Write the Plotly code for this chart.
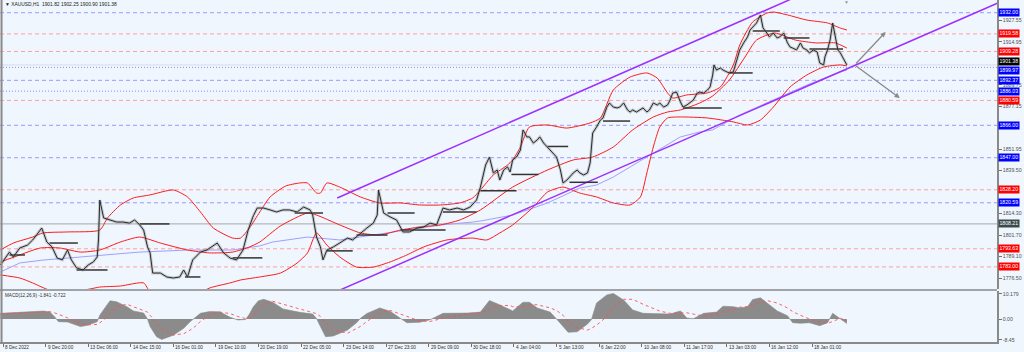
import plotly.graph_objects as go

W, H = 1024, 352
BG = '#eff6fd'
FONT = 'Liberation Sans'

# ---------------- price (H1 closes, bar index -> price) ----------------
price_bar = [-2, 5, 8, 13, 19, 23, 26, 30, 34, 38, 42, 46, 50, 53, 57, 62, 66, 70, 73, 74,
             75, 78, 83, 88, 93, 98, 102, 106, 109, 112, 114, 116, 122, 127, 132, 137, 140, 143, 147, 153,
             158, 166, 171, 176, 181, 186, 190, 194, 197, 202, 207, 212, 217, 222, 228, 233, 238, 240, 243, 246,
             248, 251, 256, 261, 267, 271, 277, 282, 287, 290, 291, 295, 300, 305, 310, 315, 321, 326, 331, 336,
             341, 346, 352, 357, 362, 367, 370, 374, 377, 380, 383, 385, 388, 391, 393, 395, 398, 401, 403, 406,
             408, 411, 414, 416, 419, 422, 424, 426, 429, 432, 434, 437, 439, 442, 445, 447, 450, 453, 455, 457,
             460, 463, 465, 468, 470, 473, 476, 478, 481, 484, 486, 488, 491, 494, 496, 499, 501, 504, 507, 509,
             512, 515, 517, 519, 522, 525, 527, 530, 532, 535, 538, 540, 543, 546, 548, 550, 551, 553, 556, 558,
             561, 563, 566, 569, 571, 574, 577, 579, 581, 584, 587, 589, 592, 594, 597, 600, 602, 605, 608, 610,
             612, 615, 618, 620, 623, 625, 628, 631, 633, 636, 637, 639, 641, 643, 647, 649, 651, 654]
price_close = [1784.1, 1791.7, 1788.8, 1794.1, 1795.8, 1798.8, 1801.7, 1805.8, 1797.6, 1794.7, 1788.2, 1787.1, 1792.9, 1787.1, 1782.4, 1781.2, 1784.1, 1785.9, 1788.8, 1798.8,
               1822.2, 1811.7, 1810.5, 1809.3, 1809.3, 1808.7, 1810.5, 1807.6, 1804.6, 1794.7, 1791.2, 1779.4, 1779.4, 1777.1, 1776.5, 1777.1, 1781.2, 1777.1, 1787.1, 1791.7,
               1792.9, 1797.0, 1791.2, 1788.2, 1787.1, 1792.9, 1804.6, 1813.0, 1817.5, 1817.5, 1816.4, 1815.2, 1816.4, 1816.4, 1815.2, 1818.1, 1816.4, 1813.4, 1800.5, 1794.7,
               1787.1, 1792.9, 1794.7, 1797.0, 1799.9, 1798.8, 1802.9, 1805.8, 1808.7, 1813.4, 1828.1, 1814.6, 1812.3, 1810.5, 1803.5, 1803.5, 1805.8, 1806.4, 1808.7, 1807.6,
               1817.5, 1816.4, 1817.5, 1816.4, 1818.1, 1822.2, 1829.8, 1842.7, 1847.4, 1838.1, 1839.8, 1833.9, 1839.8, 1841.6, 1838.6, 1845.7, 1847.4, 1851.5, 1863.3, 1859.2,
               1859.2, 1855.6, 1857.4, 1859.2, 1855.6, 1853.3, 1851.5, 1849.8, 1847.4, 1839.8, 1832.2, 1833.9, 1835.7, 1838.1, 1839.8, 1838.1, 1836.9, 1838.1, 1843.9, 1861.5,
               1865.0, 1869.1, 1870.3, 1876.7, 1879.1, 1876.7, 1876.2, 1876.7, 1879.1, 1875.0, 1873.8, 1875.0, 1873.8, 1875.0, 1876.2, 1873.8, 1875.0, 1879.1, 1877.9, 1879.1,
               1876.7, 1877.9, 1880.8, 1884.9, 1885.5, 1879.7, 1876.7, 1877.9, 1879.1, 1880.8, 1884.9, 1885.5, 1884.9, 1886.7, 1888.5, 1895.5, 1901.4, 1898.4, 1899.6, 1898.4,
               1897.3, 1896.7, 1897.3, 1905.5, 1910.2, 1914.3, 1917.8, 1921.9, 1923.6, 1926.0, 1930.7, 1923.1, 1920.1, 1917.8, 1920.1, 1917.2, 1917.8, 1920.1, 1914.3, 1911.9,
               1911.3, 1910.2, 1914.3, 1911.3, 1910.2, 1908.4, 1910.2, 1909.0, 1902.5, 1901.4, 1906.1, 1910.2, 1916.0, 1926.0, 1910.2, 1908.4, 1905.5, 1901.38]

# ---------------- Bollinger bands ----------------
bb_upper_bar = [-2, 8, 23, 31, 50, 75, 81, 91, 101, 114, 132, 143, 153, 163, 178, 184, 191, 199, 207, 219,
                230, 236, 243, 246, 251, 261, 277, 292, 308, 323, 339, 354, 364, 370, 380, 391, 395, 401, 408, 422,
                437, 455, 463, 473, 486, 499, 507, 515, 519, 530, 546, 556, 566, 571, 581, 592, 597, 608, 623, 639, 649, 654]
bb_upper = [1792.9, 1797.0, 1800.5, 1802.9, 1803.5, 1804.6, 1811.7, 1819.3, 1823.4, 1825.2, 1828.1, 1824.0, 1815.2, 1805.8, 1799.9, 1799.9, 1805.8, 1815.2, 1824.0, 1830.4,
            1832.2, 1832.2, 1826.3, 1826.3, 1832.2, 1829.8, 1824.0, 1820.5, 1820.5, 1819.3, 1819.3, 1820.5, 1823.4, 1828.1, 1836.9, 1842.7, 1845.7, 1853.3, 1865.0, 1866.2,
            1864.4, 1867.4, 1870.3, 1886.7, 1894.3, 1896.7, 1893.7, 1885.0, 1882.0, 1883.8, 1885.0, 1888.5, 1901.4, 1913.1, 1926.6, 1931.8, 1932.4, 1930.7, 1927.7, 1926.0, 1923.0, 1921.9]

bb_mid_bar = [-2, 13, 29, 44, 60, 75, 91, 106, 122, 143, 160, 178, 191, 199, 215, 236, 243, 261, 277, 292,
              308, 323, 339, 354, 370, 395, 422, 442, 457, 473, 488, 504, 515, 525, 540, 550, 563, 575, 584, 598,
              614, 630, 645, 654]
bb_mid = [1785.9, 1790.0, 1794.1, 1794.1, 1791.7, 1792.9, 1797.6, 1800.5, 1797.0, 1792.9, 1791.2, 1791.7, 1794.7, 1797.6, 1807.0, 1814.6, 1813.4, 1807.6, 1802.9, 1801.7,
          1804.6, 1806.4, 1807.6, 1810.5, 1816.4, 1829.8, 1839.8, 1845.7, 1847.4, 1853.3, 1863.3, 1870.9, 1873.8, 1875.0, 1879.1, 1883.2, 1892.6, 1906.0, 1916.0, 1920.1,
          1916.0, 1914.3, 1914.3, 1911.3]

bb_lower_bar = [-2, 13, 23, 36, 52, 67, 75, 91, 109, 114, 129, 145, 160, 176, 184, 199, 215, 228, 236, 243,
                251, 261, 274, 287, 300, 313, 326, 344, 364, 375, 385, 395, 411, 422, 434, 447, 460, 473, 486, 494,
                499, 504, 509, 515, 525, 546, 566, 577, 587, 597, 610, 623, 636, 649, 654]
bb_lower = [1778.3, 1776.5, 1773.6, 1769.4, 1768.3, 1770.0, 1771.2, 1771.8, 1773.6, 1768.3, 1763.6, 1764.8, 1770.6, 1773.6, 1775.3, 1777.1, 1779.4, 1785.3, 1791.2, 1802.9,
            1795.8, 1788.8, 1782.9, 1782.9, 1785.9, 1790.0, 1794.7, 1798.8, 1799.9, 1798.8, 1802.9, 1807.6, 1818.1, 1826.9, 1829.8, 1826.3, 1824.0, 1820.5, 1819.3, 1824.0,
            1838.1, 1853.3, 1865.0, 1870.3, 1870.9, 1870.3, 1868.0, 1866.2, 1869.1, 1876.7, 1888.5, 1895.5, 1900.2, 1901.4, 1900.8]

# ---------------- slow moving average (light blue) ----------------
ma_bar = [-2, 13, 31, 50, 75, 106, 143, 178, 199, 209, 236, 261, 287, 313, 339, 364, 370, 395, 422, 447,
          460, 473, 499, 525, 540, 550, 571, 597, 623, 649, 654]
ma_val = [1780.0, 1785.3, 1787.0, 1788.2, 1790.0, 1791.7, 1792.9, 1792.9, 1795.3, 1797.6, 1800.5, 1798.8, 1801.7, 1804.6, 1807.6, 1809.3, 1809.9, 1813.4, 1820.5, 1829.2,
          1831.0, 1835.7, 1847.4, 1859.2, 1862.1, 1863.3, 1872.1, 1880.8, 1889.6, 1897.3, 1898.4]

# ---------------- trend channel ----------------
channel_upper_bar = [259, 618]
channel_upper_price = [1823.4, 1942.4]
channel_lower_bar = [261, 771]
channel_lower_price = [1769.4, 1937.7]

# ---------------- short horizontal range segments ----------------
seg_level = [1790.0, 1797.0, 1781.2, 1808.2, 1777.1, 1788.3, 1814.6, 1792.4, 1801.7, 1814.6, 1804.6, 1815.2,
             1827.6, 1837.2, 1853.6, 1832.6, 1868.5, 1876.1, 1896.7, 1921.3, 1917.2, 1910.7]
seg_start = [5, 36, 57, 106, 141, 178, 226, 251, 274, 298, 308, 341, 370, 394, 422, 439, 465, 527, 563, 581, 605, 625]
seg_end = [17, 58, 81, 129, 153, 201, 248, 271, 298, 319, 343, 367, 398, 415, 438, 461, 486, 557, 581, 602, 625, 651]

# ---------------- horizontal levels ----------------
levels_blue_dash = [1932.00, 1892.37, 1866.00, 1847.00, 1820.59]
levels_blue_dot = [1899.97, 1886.03]
levels_red = [1919.58, 1909.28, 1880.59, 1828.20, 1793.63, 1783.00]
level_gray = 1808.21
last_price = 1901.38
y_ticks = [1927.55, 1914.95, 1889.75, 1877.15, 1851.95, 1839.50, 1814.30, 1801.70, 1789.10, 1776.50]

# ---------------- scenario arrows ----------------
arrow_tail_bar, arrow_tail_price = 660, 1901.4
arrow_head_bar = [684, 695]
arrow_head_price = [1920.7, 1882.0]

# ---------------- MACD(12,26,9) ----------------
macd_bar = [-2, 8, 23, 31, 36, 40, 43, 50, 60, 65, 73, 75, 81, 83, 88, 96, 101, 109, 112, 114,
            119, 123, 132, 140, 145, 149, 153, 160, 168, 176, 182, 188, 191, 194, 198, 202, 209, 217, 230, 240,
            243, 246, 250, 256, 267, 274, 277, 282, 292, 300, 308, 313, 323, 331, 341, 360, 370, 377, 383, 393,
            395, 403, 408, 414, 424, 429, 434, 438, 445, 453, 456, 460, 468, 473, 481, 488, 496, 509, 517, 525,
            530, 535, 543, 553, 558, 566, 571, 577, 581, 587, 592, 600, 608, 612, 618, 625, 633, 639, 643, 649, 654]
macd_hist = [2.3, 2.6, 2.8, 3.2, 2.9, 0.9, -1.1, -1.2, -3.1, -2.6, -1.1, 1.5, 6.0, 7.4, 7.0, 5.0, 3.3, 2.4, 0.0, -3.1,
             -7.2, -8.3, -6.6, -3.8, -1.1, 0.5, 2.3, 3.0, 2.9, 0.7, -0.4, -0.2, 2.0, 5.0, 7.4, 8.0, 6.8, 4.1, 2.7, 2.0,
             0.2, -3.1, -7.2, -6.9, -4.5, -1.5, 0.3, 2.2, 4.5, 3.1, 0.1, -1.5, -1.3, -0.3, 2.3, 2.4, 2.8, 7.5, 6.2, 3.7,
             3.3, 6.8, 6.8, 4.5, 2.8, 0.0, -3.1, -5.4, -5.2, -2.0, -0.3, 6.5, 9.8, 10.4, 7.7, 3.7, 2.3, 2.0, 2.0, 3.3,
             0.4, 0.1, 2.3, 2.8, 5.2, 5.0, 4.5, 5.0, 7.9, 8.6, 6.5, 3.3, 1.3, -1.5, -1.7, -1.5, -2.7, -1.5, 2.3, 0.0, -1.841]
macd_signal = [2.0, 2.3, 2.6, 2.9, 3.0, 2.5, 1.8, 0.5, -1.8, -2.4, -2.2, -1.6, 1.0, 2.5, 5.0, 6.0, 5.0, 3.5, 2.8, 1.5,
               -1.5, -4.0, -6.5, -6.0, -4.5, -3.0, -1.0, 1.5, 2.8, 2.2, 1.0, 0.2, 0.3, 1.5, 3.5, 5.5, 7.2, 6.0, 3.8, 2.6,
               2.2, 1.0, -1.5, -4.5, -5.8, -4.0, -3.0, -1.0, 2.5, 3.5, 2.0, 0.8, -0.8, -1.0, 0.3, 2.0, 2.5, 3.5, 5.5, 5.5,
               5.0, 5.0, 5.8, 5.8, 4.5, 3.5, 1.5, -0.8, -3.5, -4.5, -3.8, -2.5, 1.0, 4.5, 8.0, 8.0, 6.0, 3.2, 2.3, 2.5,
               2.5, 2.0, 1.2, 2.0, 2.8, 4.2, 4.8, 5.0, 5.8, 6.8, 7.5, 6.5, 4.5, 3.0, 1.5, 0.0, -1.2, -1.8, -1.0, 0.3, -0.722]
macd_ticks = [10.179, 0.0, -8.45]
macd_ticktext = ['10.179', '0.00', '-8.45']

# ---------------- time axis ----------------
x_tick_bars = [0, 33, 66, 99, 132, 165, 198, 231, 264, 297, 330, 363, 396, 429, 462, 495, 528, 561, 594, 627]
x_tick_labels = ['8 Dec 2022', '9 Dec 20:00', '13 Dec 06:00', '14 Dec 15:00', '16 Dec 01:00', '19 Dec 10:00',
                 '20 Dec 19:00', '22 Dec 05:00', '23 Dec 14:00', '27 Dec 23:00', '29 Dec 09:00', '30 Dec 18:00',
                 '4 Jan 04:00', '5 Jan 13:00', '6 Jan 22:00', '10 Jan 08:00', '11 Jan 17:00', '13 Jan 03:00',
                 '16 Jan 12:00', '18 Jan 01:00']

# ---------------- geometry ----------------
X_DOM = [0, 997 / W]
X_RANGE = [-2.33, 770.35]
MAIN_DOM = [1 - 289 / H, 1.0]
MACD_DOM = [1 - 342 / H, 1 - 291 / H]
MAIN_RANGE = [1770.05, 1939.46]
MACD_RANGE = [-9.35, 11.38]

fig = go.Figure()

# levels
shapes = []
for lv in levels_blue_dash:
    shapes.append(dict(type='line', xref='paper', x0=X_DOM[0], x1=X_DOM[1], yref='y', y0=lv, y1=lv,
                       line=dict(color='#9a9aff', width=1, dash='4px,3px'), layer='below'))
for lv in levels_blue_dot:
    shapes.append(dict(type='line', xref='paper', x0=X_DOM[0], x1=X_DOM[1], yref='y', y0=lv, y1=lv,
                       line=dict(color='#8c8cff', width=1, dash='1px,2px'), layer='below'))
for lv in levels_red:
    shapes.append(dict(type='line', xref='paper', x0=X_DOM[0], x1=X_DOM[1], yref='y', y0=lv, y1=lv,
                       line=dict(color='#ffa0a0', width=1, dash='4px,3px'), layer='below'))
shapes.append(dict(type='line', xref='paper', x0=X_DOM[0], x1=X_DOM[1], yref='y', y0=level_gray, y1=level_gray,
                   line=dict(color='#a8a8a8', width=1), layer='below'))
shapes.append(dict(type='line', xref='paper', x0=X_DOM[0], x1=X_DOM[1], yref='y', y0=last_price, y1=last_price,
                   line=dict(color='#d8dde4', width=1), layer='below'))
# panel frames
shapes.append(dict(type='line', xref='paper', yref='paper', x0=0, x1=X_DOM[1], y0=1 - 290 / H, y1=1 - 290 / H,
                   line=dict(color='#a0a4a8', width=2)))
shapes.append(dict(type='line', xref='paper', yref='paper', x0=0.0015, x1=0.0015, y0=MACD_DOM[0], y1=1,
                   line=dict(color='#8a8a8a', width=2)))
fig.update_layout(shapes=shapes)

# bollinger & ma
fig.add_trace(go.Scatter(x=ma_bar, y=ma_val, mode='lines', line=dict(color='#a0a0ff', width=1)))
for bx, by in ((bb_upper_bar, bb_upper), (bb_mid_bar, bb_mid), (bb_lower_bar, bb_lower)):
    fig.add_trace(go.Scatter(x=bx, y=by, mode='lines', line=dict(color='#ff1a1a', width=1, shape='spline', smoothing=0.6)))

# channel
fig.add_trace(go.Scatter(x=channel_upper_bar, y=channel_upper_price, mode='lines', line=dict(color='#9b30ff', width=1.5)))
fig.add_trace(go.Scatter(x=channel_lower_bar, y=channel_lower_price, mode='lines', line=dict(color='#9b30ff', width=1.5)))

# range segments
sx, sy = [], []
for lv, a, b in zip(seg_level, seg_start, seg_end):
    sx += [a, b, None]
    sy += [lv, lv, None]
fig.add_trace(go.Scatter(x=sx, y=sy, mode='lines', line=dict(color='#333333', width=1.5)))

# price
fig.add_trace(go.Scatter(x=price_bar, y=price_close, mode='lines', line=dict(color='rgba(120,120,120,0.35)', width=3)))
fig.add_trace(go.Scatter(x=price_bar, y=price_close, mode='lines', line=dict(color='#2a2a2a', width=1)))

# MACD
fig.add_trace(go.Scatter(x=macd_bar, y=macd_hist, xaxis='x2', yaxis='y2', mode='lines', fill='tozeroy',
                         fillcolor='rgba(128,128,128,0.9)', line=dict(color='#8a8a8a', width=0.6)))
fig.add_trace(go.Scatter(x=macd_bar, y=macd_signal, xaxis='x2', yaxis='y2', mode='lines',
                         line=dict(color='#ff5050', width=0.9, dash='dot')))

ann = []
# arrows
for hb, hp in zip(arrow_head_bar, arrow_head_price):
    ann.append(dict(x=hb, y=hp, xref='x', yref='y', ax=arrow_tail_bar, ay=arrow_tail_price, axref='x', ayref='y',
                    showarrow=True, arrowhead=2, arrowsize=0.8, arrowwidth=1.3, arrowcolor='#8a8a8a', text=''))
# right-side coloured level labels
def lab(v, bg, shift=0):
    ann.append(dict(x=998 / W, xref='paper', y=v, yref='y', xanchor='left', yanchor='middle', text='%.2f' % v,
                    showarrow=False, bgcolor=bg, borderpad=0.4, yshift=shift,
                    font=dict(size=5.2, color='white', family=FONT)))
for v in levels_red:
    lab(v, '#ff0000')
for v in levels_blue_dash:
    lab(v, '#0000ff')
lab(levels_blue_dot[0], '#0000ff', -3)
lab(levels_blue_dot[1], '#0000ff')
lab(level_gray, '#3b4a4a')
lab(last_price, '#000000', 3)
# x labels
for b, t in zip(x_tick_bars, x_tick_labels):
    ann.append(dict(x=b, xref='x2', y=1 - 347 / H, yref='paper', xanchor='left', yanchor='middle', text=t,
                    showarrow=False, font=dict(size=4.7, color='#303030', family=FONT)))
# titles
ann.append(dict(x=0.003, xref='paper', y=1 - 5 / H, yref='paper', xanchor='left', yanchor='middle',
                text='▼ XAUUSD,H1  1901.82 1902.25 1900.90 1901.38', showarrow=False,
                font=dict(size=4.9, color='#202020', family=FONT)))
ann.append(dict(x=0.003, xref='paper', y=1 - 295 / H, yref='paper', xanchor='left', yanchor='middle',
                text='MACD(12,26,9) -1.841 -0.722', showarrow=False, font=dict(size=4.6, color='#303030', family=FONT)))
ann.append(dict(x=654, xref='x', y=1 - 2 / H, yref='paper', xanchor='center', yanchor='middle', text='▼',
                showarrow=False, font=dict(size=5, color='#9a9a9a', family=FONT)))

fig.update_layout(
    template='none', width=W, height=H, autosize=False,
    margin=dict(l=0, r=0, t=0, b=0, pad=0),
    paper_bgcolor=BG, plot_bgcolor=BG, showlegend=False, hovermode=False,
    font=dict(family=FONT, size=5.2, color='#505050'),
    annotations=ann,
    xaxis=dict(domain=X_DOM, range=X_RANGE, anchor='y', visible=False, fixedrange=True),
    xaxis2=dict(domain=X_DOM, range=X_RANGE, anchor='y2', matches='x', tickvals=x_tick_bars, ticks='outside',
                ticklen=3, tickcolor='#707070', showticklabels=False, showgrid=False, zeroline=False,
                showline=True, linecolor='#8a8a8a', linewidth=1.5, automargin=False),
    yaxis=dict(domain=MAIN_DOM, range=MAIN_RANGE, anchor='x', side='right', tickvals=y_ticks,
               ticktext=['%.2f' % v for v in y_ticks], ticks='outside', ticklen=3, tickcolor='#707070',
               tickfont=dict(size=5.2, color='#505050', family=FONT), showgrid=False, zeroline=False,
               showline=True, linecolor='#8a8a8a', linewidth=1.5, automargin=False),
    yaxis2=dict(domain=MACD_DOM, range=MACD_RANGE, anchor='x2', side='right', tickvals=macd_ticks,
                ticktext=macd_ticktext, ticks='outside', ticklen=3, tickcolor='#707070',
                tickfont=dict(size=5.2, color='#505050', family=FONT), showgrid=False, zeroline=False,
                showline=True, linecolor='#8a8a8a', linewidth=1.5, automargin=False),
)

fig.write_html('out.html')
